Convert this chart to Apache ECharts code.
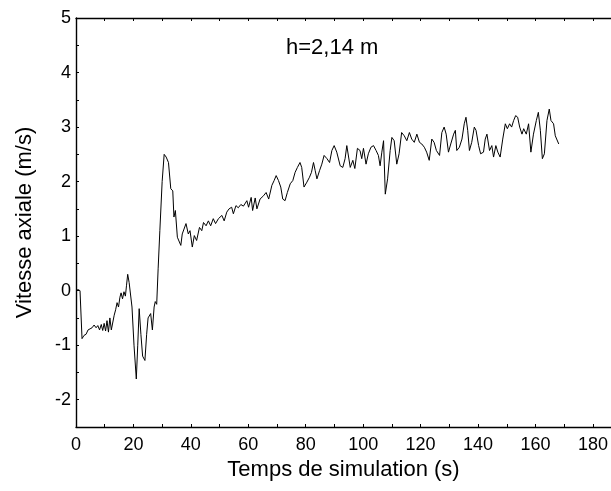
<!DOCTYPE html>
<html>
<head>
<meta charset="utf-8">
<script src="https://cdn.jsdelivr.net/npm/echarts@6/dist/echarts.min.js"></script>
<style>
html,body{margin:0;padding:0;background:#fff;}
#chart{width:611px;height:491px;}
</style>
</head>
<body>
<div id="chart"></div>
<script>
const xTitle = "Temps de simulation (s)";
const yTitle = "Vitesse axiale (m/s)";
const annotation = "h=2,14 m";
const xTickLabels = [0, 20, 40, 60, 80, 100, 120, 140, 160, 180];
const yTickLabels = [-2, -1, 0, 1, 2, 3, 4, 5];

const times = [
  0, 0.7, 1.4, 2.1, 2.8, 3.5, 4.2, 4.9, 5.6, 6.3, 7, 7.6, 8.2, 8.8, 9.3, 9.8, 10.3, 10.8, 11.3, 11.8,
  12.3, 12.8, 13.3, 13.8, 14.3, 14.8, 15.3, 15.7, 16.2, 16.7, 17.2, 17.6, 18, 18.5, 19, 19.5, 20.2, 21, 21.5, 22,
  22.6, 23.2, 24, 24.6, 25.1, 26, 26.6, 27.2, 27.6, 28.1, 28.6, 29.2, 30, 30.7, 31.4, 32.2, 33, 33.7, 34.1, 34.6,
  35.3, 36.5, 37, 38.3, 39.1, 39.7, 40.5, 41.2, 42, 43, 43.8, 44.4, 45.3, 46.1, 46.9, 47.8, 48.6, 49.6, 50.8, 51.6,
  52.5, 53.3, 54.2, 54.8, 55.7, 56.5, 57.4, 58.3, 59.5, 60.1, 61, 61.5, 62.4, 63, 64.1, 65.3, 66.2, 67.1, 68.2, 69,
  69.7, 70.5, 71.3, 72, 72.8, 73.6, 74.6, 75.5, 76.3, 77.1, 78, 78.6, 79.4, 80.4, 81.3, 82, 82.7, 83.3, 83.9, 84.8,
  85.6, 86.4, 87.4, 88.3, 89.1, 89.9, 90.8, 91.4, 92, 92.9, 93.7, 94.3, 94.9, 95.5, 96.4, 97.1, 98, 98.9, 99.5, 100.1,
  101, 101.8, 102.7, 103.6, 104.5, 105.3, 105.9, 106.5, 107.1, 107.7, 108.5, 109.4, 110, 110.8, 111.7, 112.5, 113.4, 114.3, 115.2, 116.1,
  116.9, 117.8, 118.7, 119.6, 120.4, 121.3, 122.1, 123, 123.9, 124.7, 125.5, 126.6, 127.4, 128.2, 128.9, 129.7, 130.5, 131.5, 132.1, 132.6,
  133.5, 134.4, 135.2, 135.8, 136.4, 137, 137.8, 138.7, 139.3, 140.2, 140.9, 141.9, 142.5, 143.1, 144, 144.8, 145.4, 146.2, 146.9, 147.7,
  148.6, 149.5, 150.2, 151, 151.7, 152.4, 153.1, 153.8, 154.5, 155.3, 155.9, 156.8, 157.6, 158.4, 159.3, 160.3, 161, 161.7, 162.4, 163.1,
  164, 164.8, 165.4, 166.3, 166.9, 167.5, 168.1
];
const velocity = [
  0, 0.02, 0, -0.88, -0.82, -0.8, -0.72, -0.7, -0.68, -0.63, -0.68, -0.64, -0.72, -0.62, -0.73, -0.6, -0.74, -0.55, -0.76, -0.5,
  -0.72, -0.74, -0.45, -0.35, -0.22, -0.3, -0.12, -0.04, -0.15, -0.02, -0.1, 0.1, 0.3, 0.15, 0.18, -0.3, -1.0, -1.62, -1.0, -0.33,
  -0.8, -1.2, -1.28, -0.8, -0.5, -0.42, -0.72, -0.3, -0.2, -0.25, 0.4, 1.1, 2.0, 2.5, 2.45, 2.35, 1.87, 1.83, 1.35, 1.47,
  0.98, 0.83, 1.04, 1.23, 1.04, 1.1, 0.8, 1.01, 0.92, 1.16, 1.1, 1.25, 1.19, 1.28, 1.19, 1.32, 1.23, 1.32, 1.38, 1.28,
  1.44, 1.5, 1.53, 1.41, 1.56, 1.52, 1.58, 1.55, 1.65, 1.53, 1.71, 1.47, 1.7, 1.5, 1.68, 1.74, 1.8, 1.68, 1.93, 2.02,
  2.11, 2.02, 1.9, 1.68, 1.65, 1.8, 1.96, 2.02, 2.17, 2.26, 2.35, 2.26, 1.9, 1.99, 2.08, 2.17, 2.35, 2.2, 2.05, 2.2,
  2.32, 2.48, 2.42, 2.35, 2.57, 2.66, 2.54, 2.51, 2.29, 2.26, 2.42, 2.66, 2.63, 2.26, 2.39, 2.24, 2.61, 2.57, 2.42, 2.61,
  2.32, 2.51, 2.63, 2.66, 2.57, 2.48, 2.29, 2.54, 2.75, 1.77, 2.05, 2.57, 2.81, 2.75, 2.32, 2.51, 2.9, 2.84, 2.75, 2.9,
  2.78, 2.72, 2.87, 2.72, 2.69, 2.63, 2.54, 2.39, 2.78, 2.72, 2.57, 2.48, 2.9, 3.0, 2.87, 2.54, 2.69, 2.87, 2.94, 2.57,
  2.63, 2.78, 3.06, 3.18, 2.94, 2.57, 2.72, 3.0, 2.94, 2.66, 2.51, 2.54, 2.78, 2.87, 2.57, 2.66, 2.45, 2.66, 2.54, 2.45,
  2.78, 3.06, 2.97, 3.06, 3.0, 3.12, 3.21, 3.18, 3.0, 2.87, 2.97, 2.87, 3.06, 2.54, 2.87, 3.12, 3.27, 2.94, 2.42, 2.51,
  3.12, 3.33, 3.12, 3.06, 2.84, 2.87, 2.69
];

const seriesData = times.map((t, i) => [t, velocity[i]]);
const FONT = "Liberation Sans, Arial, sans-serif";

const chart = echarts.init(document.getElementById('chart'), null, {renderer: 'canvas'});
chart.setOption({
  animation: false,
  backgroundColor: '#fff',
  grid: {left: 76, top: 18, right: 0, bottom: 64, containLabel: false},
  xAxis: [{
    type: 'value', min: 0, max: 186.3, interval: 10, position: 'bottom',
    name: xTitle, nameLocation: 'middle', nameGap: 32,
    nameTextStyle: {fontFamily: FONT, fontSize: 22, color: '#000'},
    axisLine: {show: true, onZero: false, lineStyle: {color: '#000', width: 1.4}},
    axisTick: {show: true, inside: true, length: 3, lineStyle: {color: '#000'}},
    axisLabel: {
      show: true, margin: 9, fontFamily: FONT, fontSize: 18, color: '#000', showMaxLabel: false,
      formatter: v => (xTickLabels.indexOf(v) >= 0 ? String(v) : '')
    },
    splitLine: {show: false}
  }, {
    type: 'value', min: 0, max: 186.3, interval: 10, position: 'top',
    axisLine: {show: true, onZero: false, lineStyle: {color: '#000', width: 1.4}},
    axisTick: {show: true, inside: true, length: 3, lineStyle: {color: '#000'}},
    axisLabel: {show: false},
    splitLine: {show: false}
  }],
  yAxis: {
    type: 'value', min: -2.5, max: 5, interval: 0.5,
    name: yTitle, nameLocation: 'middle', nameGap: 40, nameRotate: 90,
    nameTextStyle: {fontFamily: FONT, fontSize: 22, color: '#000'},
    axisLine: {show: true, onZero: false, lineStyle: {color: '#000', width: 1.4}},
    axisTick: {show: true, inside: true, length: 3, lineStyle: {color: '#000'}},
    axisLabel: {
      show: true, margin: 5, fontFamily: FONT, fontSize: 18, color: '#000',
      formatter: v => (yTickLabels.indexOf(v) >= 0 ? String(v) : '')
    },
    splitLine: {show: false}
  },
  graphic: [{
    type: 'text', left: 286, top: 37,
    style: {text: annotation, fontFamily: FONT, fontSize: 22, fill: '#000'}
  }],
  series: [{
    type: 'line', xAxisIndex: 0, data: seriesData, showSymbol: false,
    lineStyle: {color: '#000', width: 1}, clip: true
  }]
});
</script>
</body>
</html>
